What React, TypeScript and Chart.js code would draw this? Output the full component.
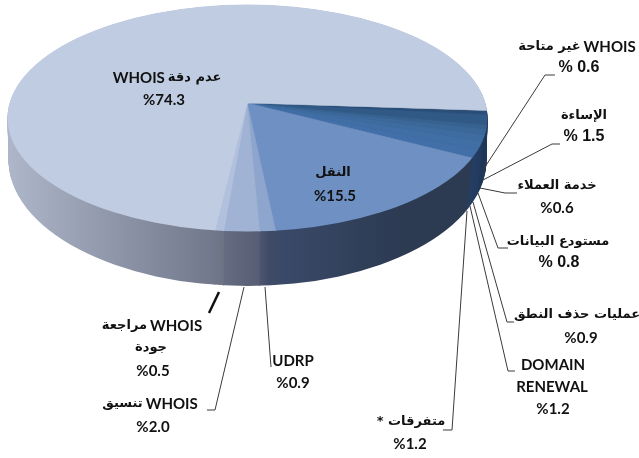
import React, { useEffect, useRef } from "react";
import { Chart, registerables } from "chart.js";

Chart.register(...registerables);

const categories = [
  "WHOIS غير متاحة", "الإساءة", "خدمة العملاء", "مستودع البيانات", "عمليات حذف النطق",
  "DOMAIN RENEWAL", "متفرقات *", "النقل", "UDRP", "WHOIS تنسيق", "WHOIS مراجعة جودة", "WHOIS عدم دقة",
];
const values = [0.6, 1.5, 0.6, 0.8, 0.9, 1.2, 1.2, 15.5, 0.9, 2.0, 0.5, 74.3];
const topColors = [
  "#2b4e79", "#315986", "#37628f", "#3b6899", "#3e6ca0", "#406fa5", "#426fa7",
  "#6f90c2", "#8ea5cd", "#a0b3d4", "#b1c0dc", "#c0cce1",
];
const sideStops: [string, string][] = [
  ["#1c3352", "#1c3352"], ["#1e3658", "#1e3658"], ["#20395d", "#20395d"], ["#1e3556", "#1e3556"],
  ["#1f3759", "#1f3759"], ["#223b60", "#223b60"], ["#243d60", "#243d60"],
  ["#3b4b6a", "#2c3a52"], ["#4c566f", "#3f4a66"], ["#656c81", "#565d74"], ["#6f7688", "#6b7284"], ["#aeb6c9", "#70778a"],
];
const sideRanges: [number, number][] = [
  [460, 490], [460, 490], [460, 490], [460, 490], [460, 490], [460, 490], [460, 490],
  [269, 400], [260, 269], [226, 260], [217, 226], [8, 217],
];

// Each line: its runs in visual order from left to right, then its centre.
const labelLines: [string[], number, number][] = [
  [["WHOIS", "عدم دقة"], 167, 78], [["%74.3"], 164, 100],
  [["النقل"], 333, 173], [["%15.5"], 335, 196],
  [["غير متاحة", "WHOIS"], 577, 47], [["% 0.6"], 579, 68],
  [["الإساءة"], 584, 116], [["% 1.5"], 584, 137],
  [["خدمة العملاء"], 557, 186], [["%0.6"], 557, 208],
  [["مستودع البيانات"], 558, 242], [["% 0.8"], 559, 263],
  [["عمليات حذف النطق"], 577, 315], [["%0.9"], 581, 338],
  [["DOMAIN"], 553, 365], [["RENEWAL"], 552, 387], [["%1.2"], 553, 409],
  [["متفرقات *"], 411, 422], [["%1.2"], 410, 444],
  [["UDRP"], 293, 361], [["%0.9"], 293, 383],
  [["مراجعة", "WHOIS"], 152, 326], [["جودة"], 151, 348], [["%0.5"], 153, 371],
  [["تنسيق", "WHOIS"], 150, 404], [["%2.0"], 153, 427],
];
const leaders: number[][] = [
  [483, 170, 545, 75, 555, 75],
  [483, 180, 552, 144, 560, 144],
  [480, 188, 505, 193, 517, 193],
  [478, 193, 498, 248, 508, 248],
  [473, 202, 507, 322, 514, 322],
  [470, 206, 508, 371, 515, 371],
  [467, 211, 452, 430, 443, 430],
  [265, 287, 271, 367],
  [244, 287, 215, 410, 207, 410],
];
const thickLeader = [219, 292, 209, 313];

const apex = { x: 247, y: 103 };
const tilt = 0.45;
const topEllipse = { cx: 247.5, cy: 118, rx: 240, ry: 113.5 };
const depth = { front: 54, cy: 42, ry: 12.5, rx: 1 };
const startDeg = 94;
const seam = 0.3;

const ARABIC = /[\u0600-\u06ff]/;
const fontFor = (s: string) => {
  if (ARABIC.test(s)) return "700 13px 'DejaVu Sans', sans-serif";
  if (s.startsWith("% ")) return "700 16px 'Liberation Sans', sans-serif";
  return "700 15px Lato, sans-serif";
};

const pie3d = {
  id: "pie3d",
  beforeDatasetsDraw(chart: any) {
    const ctx: CanvasRenderingContext2D = chart.ctx;
    const arcs = chart.getDatasetMeta(0).data;
    const base = arcs[0];
    const k = 800 / base.outerRadius;
    const level = (t: number, colors: (i: number) => any) => {
      ctx.save();
      ctx.beginPath();
      ctx.ellipse(
        topEllipse.cx,
        topEllipse.cy + depth.cy * t,
        topEllipse.rx - depth.rx * t,
        topEllipse.ry + depth.ry * t,
        0, 0, Math.PI * 2,
      );
      ctx.clip();
      ctx.translate(apex.x, apex.y + depth.front * t);
      ctx.scale(k, k * tilt);
      ctx.translate(-base.x, -base.y);
      arcs.forEach((el: any, i: number) => {
        const saved = el.options;
        const c = colors(i);
        el.options = { ...saved, backgroundColor: c, borderColor: c, borderWidth: seam };
        el.draw(ctx);
        el.options = saved;
      });
      ctx.restore();
    };
    const toLocal = (sx: number) => base.x + (sx - apex.x) / k;
    const grads = sideStops.map((s, i) => {
      const g = ctx.createLinearGradient(toLocal(sideRanges[i][0]), 0, toLocal(sideRanges[i][1]), 0);
      g.addColorStop(0, s[0]);
      g.addColorStop(1, s[1]);
      return g;
    });
    for (let step = depth.front; step > 0; step--) {
      level(step / depth.front, (i) => grads[i]);
    }
    level(0, (i) => topColors[i]);
    return false;
  },
  afterDraw(chart: any) {
    const ctx: CanvasRenderingContext2D = chart.ctx;
    ctx.save();
    ctx.strokeStyle = "#3a3a3a";
    ctx.lineWidth = 1;
    leaders.forEach((p) => {
      ctx.beginPath();
      ctx.moveTo(p[0], p[1]);
      for (let i = 2; i < p.length; i += 2) ctx.lineTo(p[i], p[i + 1]);
      ctx.stroke();
    });
    ctx.strokeStyle = "#111";
    ctx.lineWidth = 2.5;
    ctx.beginPath();
    ctx.moveTo(thickLeader[0], thickLeader[1]);
    ctx.lineTo(thickLeader[2], thickLeader[3]);
    ctx.stroke();
    ctx.fillStyle = "#111";
    ctx.textAlign = "left";
    ctx.textBaseline = "middle";
    const gap = 3;
    labelLines.forEach(([runs, x, y]) => {
      const widths = runs.map((s) => {
        ctx.font = fontFor(s);
        return ctx.measureText(s).width;
      });
      let left = x - (widths.reduce((a, b) => a + b, 0) + gap * (runs.length - 1)) / 2;
      runs.forEach((s, i) => {
        ctx.font = fontFor(s);
        ctx.direction = ARABIC.test(s) ? "rtl" : "ltr";
        ctx.fillText(s, left, y);
        left += widths[i] + gap;
      });
    });
    ctx.restore();
  },
};

export default function App() {
  const ref = useRef<HTMLCanvasElement>(null);
  useEffect(() => {
    const chart = new Chart(ref.current!, {
      type: "pie",
      data: {
        labels: categories,
        datasets: [{ data: values, backgroundColor: topColors, borderWidth: 0 }],
      },
      options: {
        responsive: false,
        animation: false,
        rotation: startDeg,
        plugins: { legend: { display: false }, tooltip: { enabled: false } },
      },
      plugins: [pie3d],
    } as any);
    return () => chart.destroy();
  }, []);
  return (
    <canvas
      ref={ref}
      width={639}
      height={458}
      style={{ position: "absolute", left: 0, top: 0, width: 639, height: 458, display: "block" }}
    />
  );
}
